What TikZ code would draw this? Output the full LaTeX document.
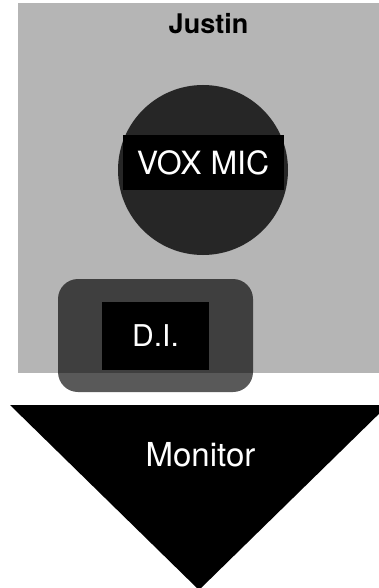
\documentclass[tikz,border=0pt]{standalone}
\usepackage{fontspec}
\setmainfont{TeX Gyre Heros}
\usepackage{xcolor}
\usetikzlibrary{positioning}

\definecolor{stagegray}{RGB}{181,181,181}
\definecolor{micgray}{RGB}{38,38,38}

\begin{document}
\begin{tikzpicture}[
				x = 1pt, y = -1pt, % pixel grid, y runs down
				node distance = 20pt, % distance between nodes
				font = \fontsize{32}{38}\selectfont
			]
			
			\tikzstyle{label box}=[
			fill = black,
			text = white,
			inner sep = 0pt
			]
			
			\useasboundingbox (0,0) rectangle (379,588);
			
			% stage area
			\fill[stagegray] (18,3) rectangle (379,373);
			\node[font = \fontsize{27}{32}\selectfont\bfseries] (justin) at (208.5,24) {Justin};
			
			\node[circle, fill = micgray, inner sep = 0pt, minimum size = 170pt] (mic) at (203,170) {};
			\node[label box, minimum width = 161pt, minimum height = 55pt, below = 50pt of mic.north] (miclabel) {VOX MIC};
			
			\node[rounded corners = 20pt, fill = black, fill opacity = 0.65, minimum width = 195pt, minimum height = 113pt] (di) at (155.5,335.5) {};
			\node[label box, font = \fontsize{30}{36}\selectfont, minimum width = 107pt, minimum height = 68pt] (dilabel) at (di.center) {D.I.};
			
			% monitor wedge
			\fill[black] (10,405) -- (388,405) -- (199,590) -- cycle;
			\node[text = white, font = \fontsize{33}{40}\selectfont] (monitor) at (200.5,455) {Monitor};
		\end{tikzpicture}
\end{document}
